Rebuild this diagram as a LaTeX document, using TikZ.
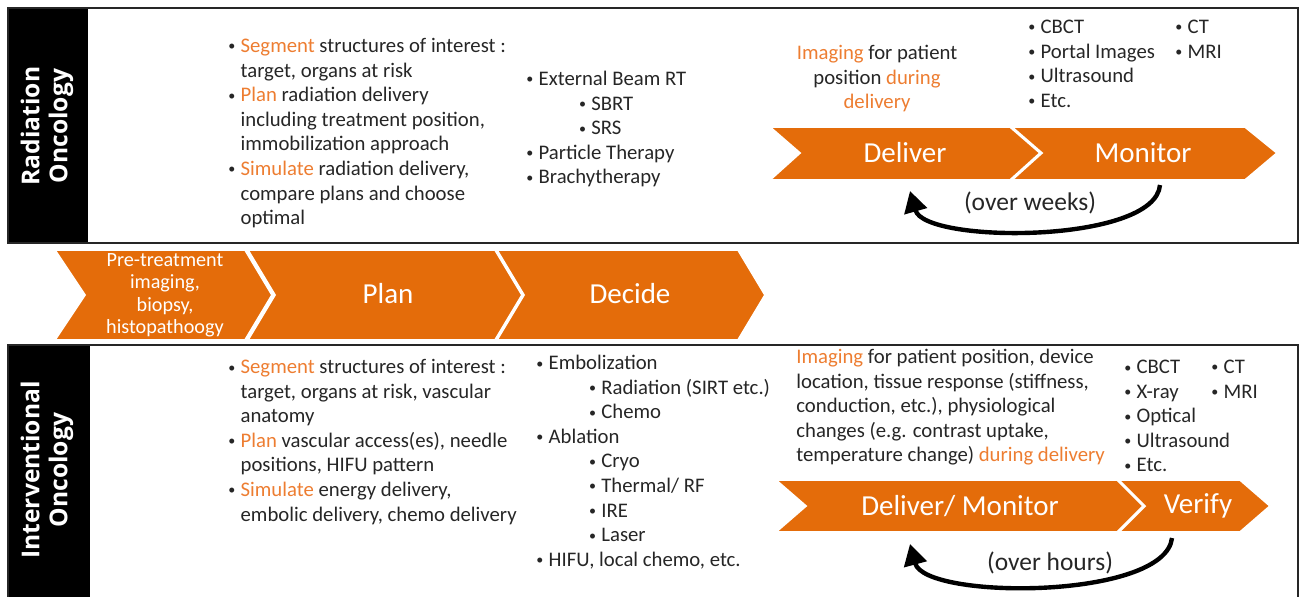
\documentclass[tikz,border=0pt]{standalone}
\usepackage{fontspec}
\setmainfont{Carlito}
\newfontfamily\headfont{Open Sans}
\usetikzlibrary{arrows.meta}

\definecolor{onco}{HTML}{E46C0A}
\definecolor{hilite}{HTML}{ED7D31}
\definecolor{txt}{HTML}{262626}
\newcommand{\orng}[1]{\textcolor{hilite}{#1}}
\newcommand{\bul}{\makebox[7pt][l]{\raisebox{0.9pt}{\fontsize{8}{8}\selectfont\textbullet}}}
\newcommand{\sub}{\hspace{30pt}\bul}

\tikzset{
  frame/.style={draw=black!85, line width=1.2pt},
  chev/.style={fill=onco, draw=white, line width=1pt},
  chevtxt/.style={text=white, inner sep=0pt, font=\fontsize{16.5}{18}\selectfont},
  sidelab/.style={rotate=90, text=white, align=center, inner sep=0pt,
    font=\headfont\bfseries\fontsize{14}{16}\selectfont},
  list/.style={anchor=north west, inner sep=0pt, text=txt,
    font=\fontsize{11.8}{14}\selectfont},
  loop/.style={line width=2.5pt, -{Triangle[length=12pt,width=13pt]}},
  looplab/.style={text=txt, inner sep=0pt, font=\fontsize{14.5}{16}\selectfont}
}

\begin{document}
\begin{tikzpicture}[x=0.02cm, y=-0.02cm]
\useasboundingbox (0,0) rectangle (1300,596);

% radiation oncology panel
\fill[black] (8,8) rectangle (88,243);
\draw[frame] (8,8) rectangle (1298,243);
\node[sidelab] (rolab) at (47,126) {Radiation\\Oncology};

\node[list] (roplan) at (228,35) {\begin{tabular}{@{}l@{}}
\bul\orng{Segment} structures of interest :\\
\hspace{7pt}target, organs at risk\\
\bul\orng{Plan} radiation delivery\\
\hspace{7pt}including treatment position,\\
\hspace{7pt}immobilization approach\\
\bul\orng{Simulate} radiation delivery,\\
\hspace{7pt}compare plans and choose\\
\hspace{7pt}optimal
\end{tabular}};

\node[list] (rotypes) at (526,68) {\begin{tabular}{@{}l@{}}
\bul External Beam RT\\
\sub SBRT\\
\sub SRS\\
\bul Particle Therapy\\
\bul Brachytherapy
\end{tabular}};

\node[list, anchor=north] (roimg) at (877,42) {\begin{tabular}{@{}c@{}}
\orng{Imaging} for patient\\
position \orng{during}\\
\orng{delivery}
\end{tabular}};

\node[list] (romodA) at (1028,16) {\begin{tabular}{@{}l@{}}
\bul CBCT\\
\bul Portal Images\\
\bul Ultrasound\\
\bul Etc.
\end{tabular}};
\node[list] (romodB) at (1175,16) {\begin{tabular}{@{}l@{}}
\bul CT\\
\bul MRI
\end{tabular}};

\draw[chev] (770,127) -- (1010,127) -- (1040,153) -- (1010,180) -- (770,180) -- (800,153) -- cycle;
\draw[chev] (1012,127) -- (1245,127) -- (1277,153) -- (1245,180) -- (1012,180) -- (1042,153) -- cycle;
\node[chevtxt] (rodel) at (905,153) {Deliver};
\node[chevtxt] (romon) at (1143,153) {Monitor};

\coordinate (wkS) at (1160,185);
\coordinate (wkE) at (910,191);
\draw[loop] (wkS) .. controls (1155,244) and (925,244) .. (wkE);
\node[looplab] (weeks) at (1030,203) {(over weeks)};

% shared steps
\draw[chev] (55,250) -- (245,250) -- (272,295) -- (245,340) -- (55,340) -- (85,295) -- cycle;
\draw[chev] (248,250) -- (495,250) -- (522,295) -- (495,340) -- (248,340) -- (275,295) -- cycle;
\draw[chev] (497,250) -- (738,250) -- (765,295) -- (738,340) -- (497,340) -- (524,295) -- cycle;
\node[chevtxt, align=center, font=\fontsize{11.5}{12.8}\selectfont] (pre) at (165,295)
  {Pre-treatment\\imaging,\\biopsy,\\histopathoogy};
\node[chevtxt] (plan) at (388,294) {Plan};
\node[chevtxt] (decide) at (630,294) {Decide};

% interventional oncology panel
\fill[black] (8,345) rectangle (90,598);
\draw[frame] (8,598) -- (8,345) -- (1298,345) -- (1298,598);
\node[sidelab] (iolab) at (47,470) {Interventional\\Oncology};

\node[list] (ioplan) at (228,356) {\begin{tabular}{@{}l@{}}
\bul\orng{Segment} structures of interest :\\
\hspace{7pt}target, organs at risk, vascular\\
\hspace{7pt}anatomy\\
\bul\orng{Plan} vascular access(es), needle\\
\hspace{7pt}positions, HIFU pattern\\
\bul\orng{Simulate} energy delivery,\\
\hspace{7pt}embolic delivery, chemo delivery
\end{tabular}};

\node[list] (iotypes) at (536,352) {\begin{tabular}{@{}l@{}}
\bul Embolization\\
\sub Radiation (SIRT etc.)\\
\sub Chemo\\
\bul Ablation\\
\sub Cryo\\
\sub Thermal/ RF\\
\sub IRE\\
\sub Laser\\
\bul HIFU, local chemo, etc.
\end{tabular}};

\node[list] (ioimg) at (796,346) {\begin{tabular}{@{}l@{}}
\orng{Imaging} for patient position, device\\
location, tissue response (stiffness,\\
conduction, etc.), physiological\\
changes (e.g. contrast uptake,\\
temperature change) \orng{during delivery}
\end{tabular}};

\node[list] (iomodA) at (1124,356) {\begin{tabular}{@{}l@{}}
\bul CBCT\\
\bul X-ray\\
\bul Optical\\
\bul Ultrasound\\
\bul Etc.
\end{tabular}};
\node[list] (iomodB) at (1211,356) {\begin{tabular}{@{}l@{}}
\bul CT\\
\bul MRI
\end{tabular}};

\draw[chev] (776,480) -- (1117,480) -- (1143,506) -- (1117,532) -- (776,532) -- (806,506) -- cycle;
\draw[chev] (1119,480) -- (1240,480) -- (1270,506) -- (1240,532) -- (1119,532) -- (1145,506) -- cycle;
\node[chevtxt] (iodel) at (960,506) {Deliver/ Monitor};
\node[chevtxt] (iover) at (1198,506) {Verify};

\coordinate (hrS) at (1172,538);
\coordinate (hrE) at (910,544);
\draw[loop] (hrS) .. controls (1165,600) and (925,600) .. (hrE);
\node[looplab] (hours) at (1050,563) {(over hours)};
\end{tikzpicture}
\end{document}
